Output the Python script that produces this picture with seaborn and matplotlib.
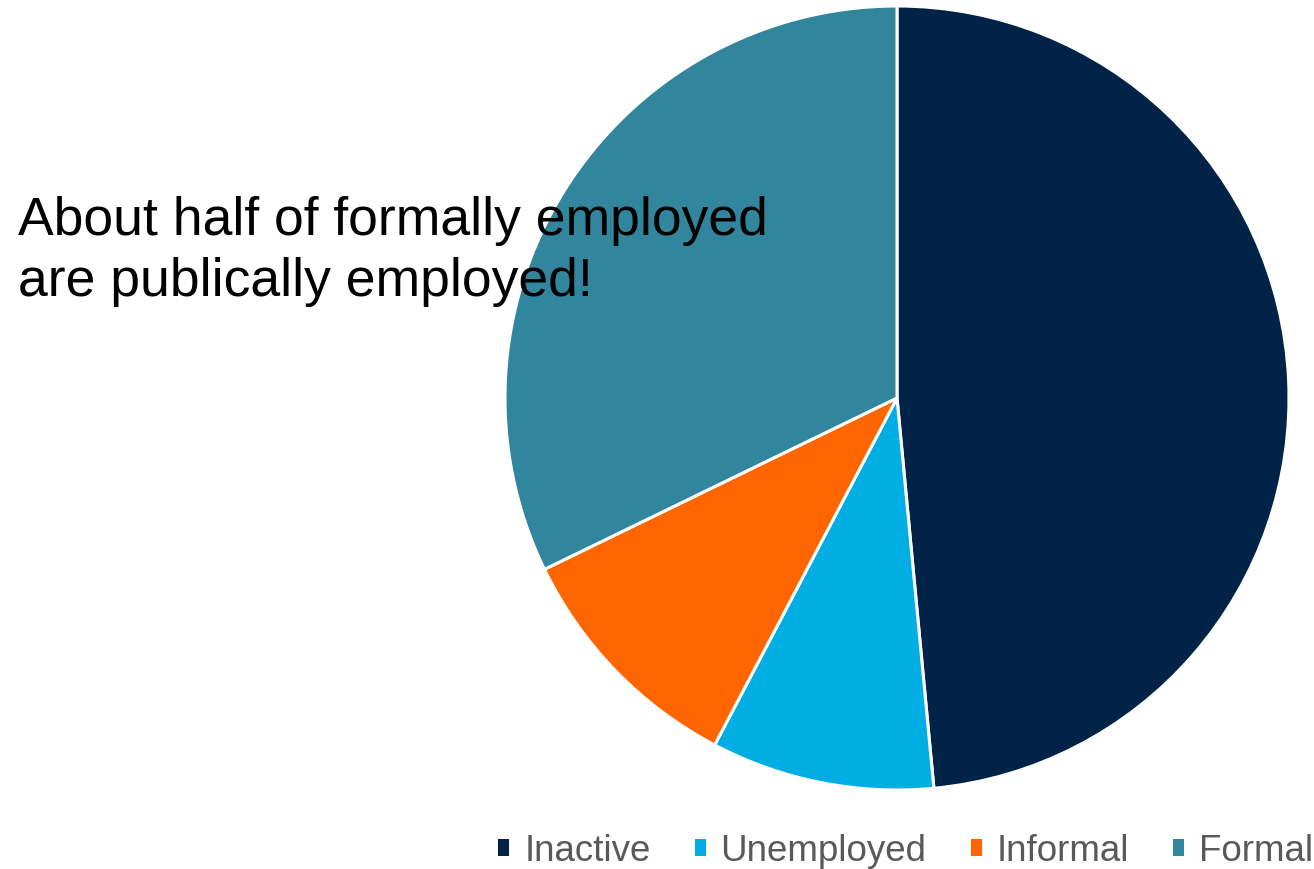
import matplotlib
matplotlib.use("Agg")
import matplotlib.pyplot as plt
from matplotlib.patches import Patch
import seaborn as sns

categories = ["Inactive", "Unemployed", "Informal", "Formal"]
shares = [48.5, 9.2, 10.1, 32.2]
colors = ["#002347", "#00AEE4", "#FF6600", "#31859C"]
note = "About half of formally employed\nare publically employed!"

sns.set_theme(style="white")
plt.rcParams["font.family"] = ["Liberation Sans", "DejaVu Sans"]

fig = plt.figure(figsize=(13.14, 8.69), dpi=100)
W, H = 1314, 869
ax = fig.add_axes([505 / W, (H - 790) / H, 784 / W, 784 / H])
ax.pie(shares, colors=colors, startangle=90, counterclock=False, radius=1,
       wedgeprops=dict(edgecolor="white", linewidth=2.2))
ax.set_xlim(-1.0, 1.0)
ax.set_ylim(-1.0, 1.0)
ax.set_aspect("equal")
ax.axis("off")

fig.text(18 / W, 1 - 196 / H, note, fontsize=38.5, color="black",
         ha="left", va="top", linespacing=1.27)

handles = [Patch(facecolor=c, edgecolor="none") for c in colors]
leg = fig.legend(handles, categories, loc="lower right", bbox_to_anchor=(1.002, -0.004),
                 ncol=4, frameon=False, fontsize=26.5, handlelength=0.3,
                 handleheight=0.3, handletextpad=0.4, columnspacing=1.2,
                 borderaxespad=0.0, borderpad=0.1)
for t in leg.get_texts():
    t.set_color("#595959")

fig.savefig("out.png", dpi=100)
